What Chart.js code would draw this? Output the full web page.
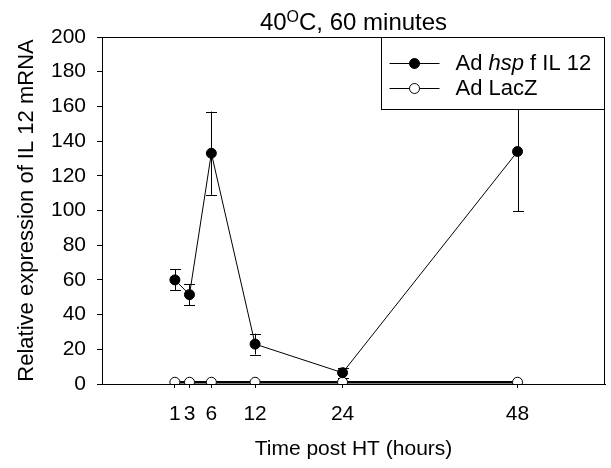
<!DOCTYPE html>
<html><head><meta charset="utf-8">
<script src="https://cdn.jsdelivr.net/npm/chart.js@4"></script>
<style>html,body{margin:0;padding:0;background:#fff}#wrap{width:611px;height:468px}</style>
</head><body><div id="wrap"><canvas id="c" width="611" height="468"></canvas></div>
<script>
const timePoints = [1, 3, 6, 12, 24, 48];
const il12Values = [60, 51.5, 133, 23, 6.5, 134];
const il12Errors = [6, 6, 24, 6, 3, 34.5];
const lacZValues = [1, 1, 1, 1, 1, 1];
const xTickValues = [1, 3, 6, 12, 24, 48];
const yTickValues = [0, 20, 40, 60, 80, 100, 120, 140, 160, 180, 200];
const seriesLabels = [['Ad ', 'hsp', ' f IL 12'], ['Ad LacZ']];
const titleParts = ['40', 'O', 'C, 60 minutes'];
const xAxisTitle = 'Time post HT (hours)';
const yAxisTitle = 'Relative expression of IL 12 mRNA';

const FONT = "'Liberation Sans', Arial, sans-serif";

const errorBarPlugin = {
  id: 'errorBars',
  beforeDatasetsDraw(chart) {
    const ctx = chart.ctx, xs = chart.scales.x, ys = chart.scales.y;
    ctx.save();
    ctx.strokeStyle = '#000';
    ctx.lineWidth = 1;
    timePoints.forEach((t, i) => {
      const x = Math.round(xs.getPixelForValue(t)) + 0.5;
      const yt = ys.getPixelForValue(il12Values[i] + il12Errors[i]);
      const yb = ys.getPixelForValue(Math.max(0, il12Values[i] - il12Errors[i]));
      ctx.beginPath();
      ctx.moveTo(x, yt); ctx.lineTo(x, yb);
      ctx.moveTo(x - 5.5, Math.round(yt) + 0.5); ctx.lineTo(x + 5.5, Math.round(yt) + 0.5);
      ctx.moveTo(x - 5.5, Math.round(yb) + 0.5); ctx.lineTo(x + 5.5, Math.round(yb) + 0.5);
      ctx.stroke();
    });
    ctx.restore();
  }
};

const framePlugin = {
  id: 'frameLegendTitle',
  afterDraw(chart) {
    const ctx = chart.ctx, a = chart.chartArea;
    ctx.save();
    ctx.strokeStyle = '#000';
    ctx.lineWidth = 1;
    ctx.beginPath();
    ctx.moveTo(a.left, Math.round(a.top) + 0.5);
    ctx.lineTo(Math.round(a.right) - 0.5, Math.round(a.top) + 0.5);
    ctx.lineTo(Math.round(a.right) - 0.5, a.bottom);
    ctx.stroke();

    // legend box
    const bw = 223, bh = 72;
    const bx = Math.round(a.right) - bw - 0.5, by = Math.round(a.top) + 0.5;
    ctx.fillStyle = '#fff';
    ctx.fillRect(bx, by, bw, bh);
    ctx.strokeRect(bx, by, bw, bh);
    const rows = [by + 26, by + 51];
    rows.forEach((ry, i) => {
      ctx.beginPath();
      ctx.moveTo(bx + 8, ry); ctx.lineTo(bx + 58, ry);
      ctx.stroke();
      ctx.beginPath();
      ctx.arc(bx + 33, ry, 5, 0, Math.PI * 2);
      ctx.fillStyle = i === 0 ? '#000' : '#fff';
      ctx.fill();
      ctx.stroke();
      let tx = bx + 74;
      ctx.fillStyle = '#000';
      ctx.textBaseline = 'middle';
      ctx.textAlign = 'left';
      seriesLabels[i].forEach((part, j) => {
        ctx.font = (i === 0 && j === 1 ? 'italic ' : '') + '22px ' + FONT;
        ctx.fillText(part, tx, ry);
        tx += ctx.measureText(part).width;
      });
    });

    // title with superscript
    const big = '24px ' + FONT, small = '16px ' + FONT;
    ctx.font = big;
    const w0 = ctx.measureText(titleParts[0]).width;
    const w2 = ctx.measureText(titleParts[2]).width;
    ctx.font = small;
    const w1 = ctx.measureText(titleParts[1]).width;
    const total = w0 + w1 + w2;
    let x = (a.left + a.right) / 2 - total / 2;
    const base = 30;
    ctx.textBaseline = 'alphabetic';
    ctx.fillStyle = '#000';
    ctx.font = big; ctx.fillText(titleParts[0], x, base); x += w0;
    ctx.font = small; ctx.fillText(titleParts[1], x, base - 8); x += w1;
    ctx.font = big; ctx.fillText(titleParts[2], x, base);
    ctx.restore();
  }
};

new Chart(document.getElementById('c'), {
  type: 'line',
  data: {
    datasets: [
      {
        label: 'Ad hsp f IL 12',
        data: timePoints.map((t, i) => ({x: t, y: il12Values[i]})),
        borderColor: '#000', borderWidth: 1,
        pointRadius: 5, pointBackgroundColor: '#000', pointBorderColor: '#000', pointBorderWidth: 1,
        tension: 0, fill: false
      },
      {
        label: 'Ad LacZ',
        data: timePoints.map((t, i) => ({x: t, y: lacZValues[i]})),
        borderColor: '#000', borderWidth: 2.5,
        pointRadius: 5, pointBackgroundColor: '#fff', pointBorderColor: '#000', pointBorderWidth: 1,
        tension: 0, fill: false
      }
    ]
  },
  options: {
    responsive: false,
    animation: false,
    devicePixelRatio: 1,
    layout: {padding: {left: 0, right: 4, top: 37, bottom: 0}},
    plugins: {legend: {display: false}, title: {display: false}, tooltip: {enabled: false}},
    scales: {
      x: {
        type: 'linear', min: -9, max: 60,
        afterBuildTicks: s => { s.ticks = xTickValues.map(v => ({value: v})); },
        afterFit: s => { s.height = 84; },
        grid: {drawOnChartArea: false, drawTicks: true, tickLength: 4, color: '#000'},
        border: {display: true, color: '#000', width: 1},
        ticks: {color: '#000', font: {family: FONT, size: 21}, padding: 14, maxRotation: 0, autoSkip: false},
        title: {display: true, text: xAxisTitle, color: '#000', font: {family: FONT, size: 21}, padding: {top: 0, bottom: 6}}
      },
      y: {
        type: 'linear', min: 0, max: 200,
        afterBuildTicks: s => { s.ticks = yTickValues.map(v => ({value: v})); },
        afterFit: s => { s.width = 102; },
        grid: {drawOnChartArea: false, drawTicks: true, tickLength: 5, color: '#000'},
        border: {display: true, color: '#000', width: 1},
        ticks: {color: '#000', font: {family: FONT, size: 21}, padding: 11},
        title: {display: true, text: yAxisTitle, color: '#000', font: {family: FONT, size: 22}, padding: {top: 14, bottom: 0}}
      }
    }
  },
  plugins: [errorBarPlugin, framePlugin]
});
</script>
</body></html>
